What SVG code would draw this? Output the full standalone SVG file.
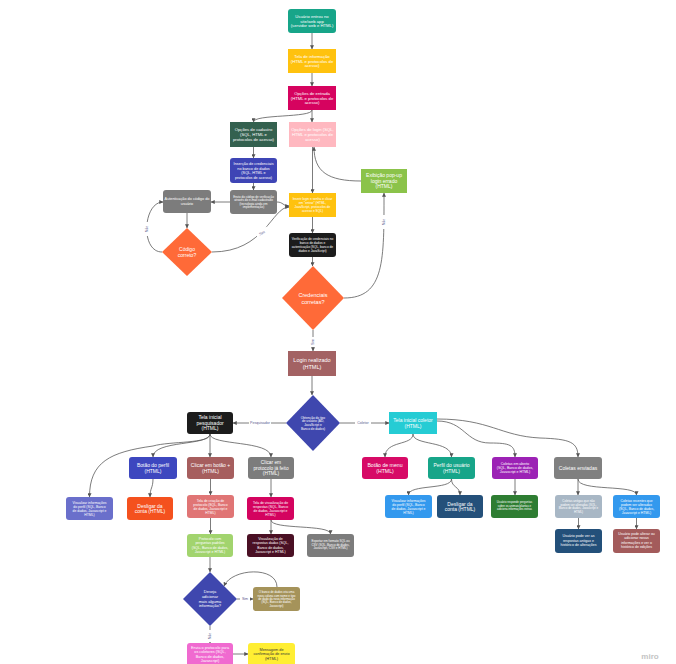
<svg xmlns="http://www.w3.org/2000/svg" width="676" height="664" viewBox="0 0 676 664">
<defs>
<marker id="a" viewBox="0 0 6 6" refX="5.6" refY="3" markerWidth="4" markerHeight="4" markerUnits="userSpaceOnUse" orient="auto"><path d="M0,0 L6,3 L0,6 z" fill="#555"/></marker>
<style>
text{font-family:"Liberation Sans",Arial,sans-serif;text-anchor:middle;fill:#fff}
.e path{fill:none;stroke:#5a5a5a;stroke-width:0.8;marker-end:url(#a)}
.lb{fill:#5b5b8f;font-size:3.6px}
.lbg{fill:#fff}
.dk{fill:#333}
</style>
</defs>
<rect width="676" height="664" fill="#fff"/>

<g class="e" id="connectors">
<path d="M312,33 L312,49"/>
<path d="M312,73 L312,86"/>
<path d="M312,110 L312,122"/>
<path d="M312,110 C312,118 253.5,114 253.5,122"/>
<path d="M253.5,147 L253.5,158"/>
<path d="M253.5,183 L253.5,190"/>
<path d="M230,202 L211,202"/>
<path d="M277,202 C283,202 283,206 289,206"/>
<path d="M187,213 L187,228"/>
<path d="M162,252 C140,252 143,202 163,202"/>
<path d="M212,252 C265,252 272,207 289,207"/>
<path d="M312.5,147 L312.5,193"/>
<path d="M361,181 C328,181 314,172 314,147"/>
<path d="M312.5,217 L312.5,233"/>
<path d="M312.5,257 L312.5,266"/>
<path d="M344,298 C385,298 384,260 384,193"/>
<path d="M313,330 L313,351"/>
<path d="M312,376 L312,395"/>
<path d="M286,423 L233,423"/>
<path d="M340,423 L389,423"/>
<path d="M210,434 C210,446 153,440 153,457"/>
<path d="M210,434 C210,444 170,441 153,446 C110,452 89.5,462 89.5,497"/>
<path d="M153,479 C153,488 150,488 150,497"/>
<path d="M210,434 L210,457"/>
<path d="M210,434 C210,446 271,440 271,457"/>
<path d="M210.5,479 L210.5,495"/>
<path d="M210.5,518 L210.5,534"/>
<path d="M271,479 L271,497"/>
<path d="M271,520 L271,534"/>
<path d="M271,520 C271,530 330.5,524 330.5,534"/>
<path d="M210,557 L210,572"/>
<path d="M237,599 L253,599"/>
<path d="M277,587 C277,566 232,568 224,586"/>
<path d="M210,626 L210,643"/>
<path d="M233,654 L248,654"/>
<path d="M413,434 C413,446 385,440 385,457"/>
<path d="M413,434 C413,446 451.5,440 451.5,457"/>
<path d="M437,421 C465,421 465,443 490,443 C510,443 515,445 515,457"/>
<path d="M437,419 C490,419 500,436 540,438 C570,439 578,442 578,457"/>
<path d="M451.5,479 C451.5,490 408.5,484 408.5,495"/>
<path d="M451.5,479 C451.5,488 460,486 460,495"/>
<path d="M515,479 L515,495"/>
<path d="M578,479 L578,495"/>
<path d="M578,479 C578,492 636.5,484 636.5,495"/>
<path d="M578.5,518 L578.5,529"/>
<path d="M636.5,518 L636.5,529"/>
<!-- labels -->
<rect class="lbg" x="142" y="222" width="10" height="14"/>
<text class="lb" transform="translate(147,229) rotate(-90)" y="1.2">Não</text>
<rect class="lbg" x="256" y="229" width="13" height="8" transform="rotate(-25 262 233)"/>
<text class="lb" transform="translate(262,233) rotate(-25)" y="1.2">Sim</text>
<rect class="lbg" x="379" y="215" width="10" height="14"/>
<text class="lb" transform="translate(384,222) rotate(-90)" y="1.2">Não</text>
<rect class="lbg" x="309" y="337" width="8" height="10"/>
<text class="lb" transform="translate(313,342) rotate(-90)" y="1.2">Sim</text>
<rect class="lbg" x="249" y="420" width="22" height="6"/>
<text class="lb" x="260" y="424.3">Pesquisador</text>
<rect class="lbg" x="355" y="420" width="16" height="6"/>
<text class="lb" x="363" y="424.3">Coletor</text>
<rect class="lbg" x="240" y="596" width="10" height="6"/>
<text class="lb" x="245" y="600.3">Sim</text>
<rect class="lbg" x="206" y="630" width="8" height="12"/>
<text class="lb" transform="translate(210,636) rotate(-90)" y="1.2">Não</text>
</g>

<g id="n1"><rect x="288" y="9" width="48" height="24" rx="3" fill="#17A589"/>
<text font-size="4.2"><tspan x="312" y="17.7">Usuário entrou no</tspan><tspan x="312" y="22.5">site/web app</tspan><tspan x="312" y="27.3">(servidor web e HTML)</tspan></text></g>

<g id="n2"><rect x="288" y="49" width="48" height="24" fill="#FFC20E"/>
<text font-size="4.2"><tspan x="312" y="57.7">Tela de informação</tspan><tspan x="312" y="62.5">(HTML e protocolos de</tspan><tspan x="312" y="67.3">acesso)</tspan></text></g>

<g id="n3"><rect x="288" y="86" width="48" height="24" fill="#D6035F"/>
<text font-size="4.2"><tspan x="312" y="94.7">Opções de entrada</tspan><tspan x="312" y="99.5">(HTML e protocolos de</tspan><tspan x="312" y="104.3">acesso)</tspan></text></g>

<g id="n4"><rect x="230" y="122" width="47" height="25" fill="#34614F"/>
<text font-size="4.2"><tspan x="253.5" y="131.2">Opções de cadastro</tspan><tspan x="253.5" y="136">(SQL, HTML e</tspan><tspan x="253.5" y="140.8">protocolos de acesso)</tspan></text></g>

<g id="n5"><rect x="289" y="122" width="47" height="25" fill="#FFB8C0"/>
<text font-size="4.2"><tspan x="312.5" y="131.2">Opções de login (SQL,</tspan><tspan x="312.5" y="136">HTML e protocolos de</tspan><tspan x="312.5" y="140.8">acesso)</tspan></text></g>

<g id="n6"><rect x="230" y="158" width="47" height="25" rx="3" fill="#3E45B5"/>
<text font-size="3.8"><tspan x="253.5" y="165.3">Inserção de credenciais</tspan><tspan x="253.5" y="169.7">no banco de dados</tspan><tspan x="253.5" y="174.1">(SQL, HTML e</tspan><tspan x="253.5" y="178.5">protocolos de acesso)</tspan></text></g>

<g id="n7"><rect x="230" y="190" width="47" height="24" rx="3" fill="#7C7C7C"/>
<text font-size="3"><tspan x="253.5" y="197.6">Envio do código de verificação</tspan><tspan x="253.5" y="201.2">através do e-mail cadastrado</tspan><tspan x="253.5" y="204.8">(tecnologia ainda em</tspan><tspan x="253.5" y="208.4">implementação)</tspan></text></g>

<g id="n8"><rect x="289" y="193" width="47" height="24" fill="#FFC20E"/>
<text font-size="3.2"><tspan x="312.5" y="200.3">Inserir login e senha e clicar</tspan><tspan x="312.5" y="204.1">em "entrar" (HTML,</tspan><tspan x="312.5" y="207.9">JavaScript, protocolos de</tspan><tspan x="312.5" y="211.7">acesso e SQL)</tspan></text></g>

<g id="n9"><rect x="289" y="233" width="47" height="24" rx="3" fill="#1C1C1C"/>
<text font-size="3.2"><tspan x="312.5" y="240.3">Verificação de credenciais no</tspan><tspan x="312.5" y="244.1">banco de dados e</tspan><tspan x="312.5" y="247.9">autenticação (SQL, banco de</tspan><tspan x="312.5" y="251.7">dados e JavaScript)</tspan></text></g>

<g id="n10"><rect x="361" y="169" width="46" height="24" fill="#8BC34A"/>
<text font-size="5"><tspan x="384" y="177">Exibição pop-up</tspan><tspan x="384" y="182.7">login errado</tspan><tspan x="384" y="188.4">(HTML)</tspan></text></g>

<g id="n11"><rect x="163" y="190" width="48" height="23" rx="3" fill="#7C7C7C"/>
<text font-size="3.8"><tspan x="187" y="200">Autenticação do código do</tspan><tspan x="187" y="204.6">usuário</tspan></text></g>

<g id="d12"><polygon points="187,228 212,252 187,276 162,252" fill="#FF6A38"/>
<text font-size="5"><tspan x="187" y="251">Código</tspan><tspan x="187" y="257">correto?</tspan></text></g>

<g id="d13"><polygon points="313,266 344,298 313,330 282,298" fill="#FF6A38"/>
<text font-size="5.5"><tspan x="313" y="297">Credenciais</tspan><tspan x="313" y="303.5">corretas?</tspan></text></g>

<g id="n14"><rect x="288" y="351" width="48" height="25" fill="#A36263"/>
<text font-size="5.5"><tspan x="312" y="362">Login realizado</tspan><tspan x="312" y="368.5">(HTML)</tspan></text></g>

<g id="d15"><polygon points="313,395 340,423 313,451 286,423" fill="#3F47AE"/>
<text font-size="3.2"><tspan x="313" y="418.5">Obtenção do tipo</tspan><tspan x="313" y="422.3">de usuário (AD,</tspan><tspan x="313" y="426.1">JavaScript e</tspan><tspan x="313" y="429.9">Banco de dados)</tspan></text></g>

<g id="n16"><rect x="187" y="412" width="46" height="22" rx="3" fill="#1C1C1C"/>
<text font-size="5"><tspan x="210" y="419">Tela inicial</tspan><tspan x="210" y="424.7">pesquisador</tspan><tspan x="210" y="430.4">(HTML)</tspan></text></g>

<g id="n17"><rect x="389" y="412" width="48" height="22" fill="#25CCD4"/>
<text font-size="5"><tspan x="413" y="422">Tela inicial coletor</tspan><tspan x="413" y="427.7">(HTML)</tspan></text></g>

<g id="p1"><rect x="129" y="457" width="48" height="22" rx="3" fill="#3D47BF"/>
<text font-size="5"><tspan x="153" y="467">Botão do perfil</tspan><tspan x="153" y="472.7">(HTML)</tspan></text></g>

<g id="p2"><rect x="187" y="457" width="47" height="22" rx="3" fill="#A65E5E"/>
<text font-size="5"><tspan x="210.5" y="467">Clicar em botão +</tspan><tspan x="210.5" y="472.7">(HTML)</tspan></text></g>

<g id="p3"><rect x="248" y="457" width="46" height="22" rx="3" fill="#7C7C7C"/>
<text font-size="4.8"><tspan x="271" y="464.3">Clicar em</tspan><tspan x="271" y="469.8">protocolo já feito</tspan><tspan x="271" y="475.3">(HTML)</tspan></text></g>

<g id="p4"><rect x="66" y="497" width="47" height="23" rx="3" fill="#6A6FCB"/>
<text font-size="3.4"><tspan x="89.5" y="503.5">Visualizar informações</tspan><tspan x="89.5" y="507.5">do perfil (SQL, Banco</tspan><tspan x="89.5" y="511.5">de dados, Javascript e</tspan><tspan x="89.5" y="515.5">HTML)</tspan></text></g>

<g id="p5"><rect x="127" y="497" width="46" height="23" rx="3" fill="#F4511E"/>
<text font-size="5"><tspan x="150" y="507.5">Desligar da</tspan><tspan x="150" y="513.2">conta (HTML)</tspan></text></g>

<g id="p6"><rect x="187" y="495" width="47" height="23" rx="3" fill="#E07575"/>
<text font-size="3.4"><tspan x="210.5" y="501.5">Tela de criação de</tspan><tspan x="210.5" y="505.5">protocolo (SQL, Banco</tspan><tspan x="210.5" y="509.5">de dados, Javascript e</tspan><tspan x="210.5" y="513.5">HTML)</tspan></text></g>

<g id="p7"><rect x="247" y="497" width="47" height="23" rx="3" fill="#D4035F"/>
<text font-size="3.4"><tspan x="270.5" y="503.5">Tela de visualização de</tspan><tspan x="270.5" y="507.5">respostas (SQL, Banco</tspan><tspan x="270.5" y="511.5">de dados, Javascript e</tspan><tspan x="270.5" y="515.5">HTML)</tspan></text></g>

<g id="p8"><rect x="187" y="534" width="46" height="23" rx="3" fill="#A2D46E"/>
<text font-size="3.5"><tspan x="210" y="540.3">Protocolo com</tspan><tspan x="210" y="544.4">perguntas padrões</tspan><tspan x="210" y="548.5">(SQL, Banco de dados,</tspan><tspan x="210" y="552.6">Javascript e HTML)</tspan></text></g>

<g id="p9"><rect x="247" y="534" width="47" height="23" rx="3" fill="#4A1024"/>
<text font-size="3.5"><tspan x="270.5" y="540.3">Visualização de</tspan><tspan x="270.5" y="544.4">respostas dadas (SQL,</tspan><tspan x="270.5" y="548.5">Banco de dados,</tspan><tspan x="270.5" y="552.6">Javascript e HTML)</tspan></text></g>

<g id="p10"><rect x="307" y="534" width="47" height="23" rx="3" fill="#7C7C7C"/>
<text font-size="3"><tspan x="330.5" y="542.1">Exportar em formato SQL ou</tspan><tspan x="330.5" y="545.6">CSV (SQL, Banco de dados,</tspan><tspan x="330.5" y="549.1">Javascript, CSV e HTML)</tspan></text></g>

<g id="d18"><polygon points="210,572 237,599 210,626 183,599" fill="#3F47AE"/>
<text font-size="4"><tspan x="210" y="593.3">Deseja</tspan><tspan x="210" y="597.9">adicionar</tspan><tspan x="210" y="602.5">mais alguma</tspan><tspan x="210" y="607.1">informação?</tspan></text></g>

<g id="p11"><rect x="253" y="587" width="47" height="24" rx="3" fill="#A5935A"/>
<text font-size="2.9"><tspan x="276.5" y="593.2">O banco de dados cria uma</tspan><tspan x="276.5" y="596.6">nova coluna com nome e tipo</tspan><tspan x="276.5" y="600">de dado da nova informação</tspan><tspan x="276.5" y="603.4">(SQL, Banco de dados,</tspan><tspan x="276.5" y="606.8">Javascript)</tspan></text></g>

<g id="p12"><rect x="187" y="643" width="46" height="24" rx="3" fill="#F06AD0"/>
<text font-size="3.8"><tspan x="210" y="649">Envia o protocolo para</tspan><tspan x="210" y="653.4">os coletores (SQL,</tspan><tspan x="210" y="657.8">Banco de dados,</tspan><tspan x="210" y="662.2">Javascript)</tspan></text></g>

<g id="p13"><rect x="248" y="643" width="47" height="24" rx="3" fill="#FFEE33"/>
<text class="dk" font-size="3.8"><tspan x="271.5" y="651">Mensagem de</tspan><tspan x="271.5" y="655.4">confirmação de envio</tspan><tspan x="271.5" y="659.8">(HTML)</tspan></text></g>

<g id="c1"><rect x="362" y="457" width="46" height="22" rx="3" fill="#D70A66"/>
<text font-size="5.2"><tspan x="385" y="467">Botão de menu</tspan><tspan x="385" y="472.9">(HTML)</tspan></text></g>

<g id="c2"><rect x="428" y="457" width="47" height="22" rx="3" fill="#17A589"/>
<text font-size="5"><tspan x="451.5" y="467">Perfil do usuário</tspan><tspan x="451.5" y="472.7">(HTML)</tspan></text></g>

<g id="c3"><rect x="492" y="457" width="46" height="22" rx="3" fill="#9C22B5"/>
<text font-size="3.5"><tspan x="515" y="465">Coletas em aberto</tspan><tspan x="515" y="469.1">(SQL, Banco de dados,</tspan><tspan x="515" y="473.2">Javascript e HTML)</tspan></text></g>

<g id="c4"><rect x="554" y="457" width="48" height="22" rx="3" fill="#808080"/>
<text font-size="5"><tspan x="578" y="469.8">Coletas enviadas</tspan></text></g>

<g id="c5"><rect x="385" y="495" width="47" height="23" rx="3" fill="#3399EE"/>
<text font-size="3.4"><tspan x="408.5" y="501.5">Visualizar informações</tspan><tspan x="408.5" y="505.5">do perfil (SQL, Banco</tspan><tspan x="408.5" y="509.5">de dados, Javascript e</tspan><tspan x="408.5" y="513.5">HTML)</tspan></text></g>

<g id="c6"><rect x="437" y="495" width="46" height="23" rx="3" fill="#24507A"/>
<text font-size="5"><tspan x="460" y="505.5">Desligar da</tspan><tspan x="460" y="511.2">conta (HTML)</tspan></text></g>

<g id="c7"><rect x="491" y="495" width="47" height="23" rx="3" fill="#2E7D32"/>
<text font-size="2.8"><tspan x="514.5" y="503.3">Usuário responde perguntas</tspan><tspan x="514.5" y="506.6">sobre os animais/plantas e</tspan><tspan x="514.5" y="509.9">adiciona informações extras</tspan></text></g>

<g id="c8"><rect x="555" y="495" width="47" height="23" rx="3" fill="#A8B7C5"/>
<text font-size="3"><tspan x="578.5" y="502.2">Coletas antigas que não</tspan><tspan x="578.5" y="505.7">podem ser alteradas (SQL,</tspan><tspan x="578.5" y="509.2">Banco de dados, Javascript e</tspan><tspan x="578.5" y="512.7">HTML)</tspan></text></g>

<g id="c9"><rect x="613" y="495" width="47" height="23" rx="3" fill="#3399EE"/>
<text font-size="3.4"><tspan x="636.5" y="501.5">Coletas recentes que</tspan><tspan x="636.5" y="505.5">podem ser alteradas</tspan><tspan x="636.5" y="509.5">(SQL, Banco de dados,</tspan><tspan x="636.5" y="513.5">Javascript e HTML)</tspan></text></g>

<g id="c10"><rect x="555" y="529" width="47" height="24" rx="3" fill="#23507A"/>
<text font-size="3.6"><tspan x="578.5" y="537.4">Usuário pode ver as</tspan><tspan x="578.5" y="541.6">respostas antigas e</tspan><tspan x="578.5" y="545.8">histórico de alterações</tspan></text></g>

<g id="c11"><rect x="613" y="529" width="47" height="24" rx="3" fill="#A35B5B"/>
<text font-size="3.5"><tspan x="636.5" y="535.3">Usuário pode alterar ou</tspan><tspan x="636.5" y="539.4">adicionar novas</tspan><tspan x="636.5" y="543.5">informações e ver o</tspan><tspan x="636.5" y="547.6">histórico de edições</tspan></text></g>

<text x="650" y="659" font-size="8" style="fill:#c4c4c4;font-weight:bold">miro</text>
</svg>
